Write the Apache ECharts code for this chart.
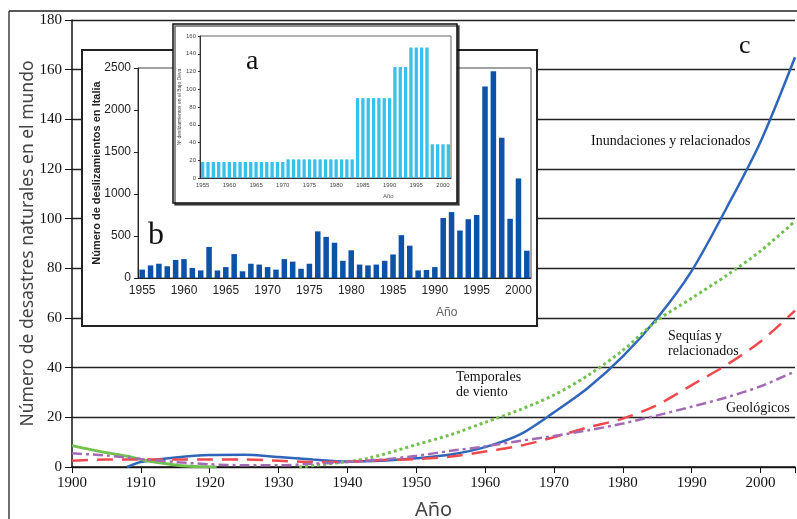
<!DOCTYPE html>
<html>
<head>
<meta charset="utf-8">
<script src="https://cdn.jsdelivr.net/npm/echarts@6/dist/echarts.min.js"></script>
<style>
  html, body { margin: 0; padding: 0; background: #fff; }
  #chart { width: 797px; height: 519px; }
</style>
</head>
<body>
<div id="chart"></div>
<script>
// panel c: desastres naturales en el mundo
var floodYears = [1908, 1910, 1915, 1920, 1925, 1930, 1935, 1940, 1945, 1950, 1955, 1960, 1965, 1970, 1975, 1980, 1985, 1990, 1995, 2000, 2005];
var floodVals  = [0, 2, 3.8, 4.8, 4.9, 4, 3, 2.2, 2.5, 3.5, 5, 8, 13, 22, 32, 44.5, 60, 79, 104, 131, 165];

var windEarlyYears = [1900, 1904, 1908, 1911, 1914, 1917, 1921];
var windEarlyVals  = [8.6, 6.3, 4.3, 2.4, 1.2, 0.3, 0];
var windYears = [1933, 1938, 1943, 1950, 1955, 1960, 1965, 1970, 1975, 1980, 1985, 1990, 1995, 2000, 2005];
var windVals  = [0, 1.5, 3.5, 9, 13, 18, 23, 29, 37, 47, 59, 68, 77, 87, 99];

var otherYears   = [1900, 1905, 1910, 1915, 1920, 1925, 1930, 1935, 1940, 1945, 1950, 1955, 1960, 1965, 1970, 1975, 1980, 1985, 1990, 1995, 2000, 2005];
var droughtVals  = [2.5, 3, 3, 3, 3, 3, 2.5, 2, 2.2, 2.8, 3.2, 4.2, 6.2, 8.5, 12, 16, 19.5, 25, 33, 41, 50.5, 63];
var geoVals      = [5.5, 4.6, 3.2, 2, 1.1, 0.7, 0.7, 1.3, 2, 3, 4.5, 6.5, 8.3, 10.5, 12.5, 14.8, 17.5, 20.8, 24.3, 28, 32.5, 38.5];

// panel b: deslizamientos en Italia
var italyYears = [];
for (var y = 1955; y <= 2001; y++) italyYears.push(String(y));
var italyVals = [100, 150, 170, 140, 215, 225, 120, 90, 370, 90, 130, 285, 80, 170, 160, 130, 100, 225, 195, 110,
                 170, 555, 490, 420, 205, 330, 160, 150, 160, 205, 280, 510, 385, 90, 95, 130, 715, 785, 565, 700,
                 750, 2280, 2460, 1670, 705, 1185, 325];

// panel a: deslizamientos en el Bajo Deva
var devaVals = [18, 18, 18, 18, 18, 18, 18, 18, 18, 18, 18, 18, 18, 18, 18, 18,
                21, 21, 21, 21, 21, 21, 21, 21, 21, 21, 21, 21, 21,
                90, 90, 90, 90, 90, 90, 90,
                125, 125, 125,
                147, 147, 147, 147,
                38, 38, 38, 38];

function pairs(xs, vs) {
    var out = [];
    for (var i = 0; i < xs.length; i++) out.push([xs[i], vs[i]]);
    return out;
}
function every5(i, v) { return (+v) % 5 === 0; }
function plain(v) { return String(v); }

var serif = 'Liberation Serif';
var sans = 'Liberation Sans';

var myChart = echarts.init(document.getElementById('chart'));
var option = {
    animation: false,
    backgroundColor: '#fff',
    grid: [
        { left: 72, right: 2, top: 20, bottom: 52, outerBoundsMode: 'none' },
        { left: 138, top: 68, width: 393, height: 210, show: true, borderColor: '#444', borderWidth: 1,
          backgroundColor: '#fff', z: 20, outerBoundsMode: 'none' },
        { left: 200, top: 36, width: 251, height: 142, show: true, borderColor: '#666', borderWidth: 1,
          backgroundColor: '#fff', z: 40, outerBoundsMode: 'none' }
    ],
    xAxis: [
        {
            gridIndex: 0, type: 'value', min: 1900, max: 2005, interval: 10,
            name: 'Año', nameLocation: 'middle', nameGap: 33, nameMoveOverlap: false,
            nameTextStyle: { fontFamily: 'Noto Sans', fontSize: 20, color: '#444' },
            axisLine: { lineStyle: { color: '#111', width: 1.5 } },
            axisTick: { length: 6, lineStyle: { color: '#111' } },
            axisLabel: { fontFamily: serif, fontSize: 15, color: '#111', margin: 9,
                formatter: function (v) { return v % 10 === 0 ? String(v) : ''; } },
            splitLine: { show: false }
        },
        {
            gridIndex: 1, type: 'category', data: italyYears, z: 21,
            axisLine: { lineStyle: { color: '#222' } },
            axisTick: { alignWithLabel: true, interval: every5, length: 4, lineStyle: { color: '#222' } },
            axisLabel: { interval: every5, fontFamily: sans, fontSize: 12, color: '#222', margin: 7 }
        },
        {
            gridIndex: 2, type: 'category', data: italyYears, z: 41,
            axisLine: { lineStyle: { color: '#333' } },
            axisTick: { alignWithLabel: true, interval: every5, length: 2, lineStyle: { color: '#333' } },
            axisLabel: { interval: every5, fontFamily: sans, fontSize: 6, color: '#444', margin: 4 }
        }
    ],
    yAxis: [
        {
            gridIndex: 0, type: 'value', min: 0, max: 180, interval: 20,
            name: 'Número de desastres naturales en el mundo', nameLocation: 'middle', nameGap: 35,
            nameMoveOverlap: false,
            nameTextStyle: { fontFamily: 'Noto Sans', fontSize: 17.5, color: '#444' },
            axisLine: { show: true, lineStyle: { color: '#111', width: 1.5 } },
            axisTick: { show: true, length: 7, lineStyle: { color: '#111' } },
            axisLabel: { fontFamily: serif, fontSize: 15, color: '#111', margin: 10 },
            splitLine: { show: true, lineStyle: { color: '#222', width: 1.3 } }
        },
        {
            gridIndex: 1, type: 'value', min: 0, max: 2500, interval: 500, z: 21,
            name: 'Número de deslizamientos en Italia', nameLocation: 'middle', nameGap: 36,
            nameMoveOverlap: false,
            nameTextStyle: { fontFamily: sans, fontSize: 11, fontWeight: 'bold', color: '#222' },
            axisLine: { show: true, lineStyle: { color: '#222' } },
            axisTick: { show: true, length: 4 },
            axisLabel: { fontFamily: sans, fontSize: 12, color: '#222', margin: 7, formatter: plain },
            splitLine: { show: false }
        },
        {
            gridIndex: 2, type: 'value', min: 0, max: 160, interval: 20, z: 41,
            name: 'Nº deslizamientos en el Bajo Deva', nameLocation: 'middle', nameGap: 18,
            nameMoveOverlap: false,
            nameTextStyle: { fontFamily: sans, fontSize: 5, color: '#444' },
            axisLine: { show: true, lineStyle: { color: '#333' } },
            axisTick: { show: true, length: 2 },
            axisLabel: { fontFamily: sans, fontSize: 6, color: '#444', margin: 4, formatter: plain },
            splitLine: { show: false }
        }
    ],
    series: [
        {
            name: 'Inundaciones y relacionados', type: 'line', xAxisIndex: 0, yAxisIndex: 0,
            data: pairs(floodYears, floodVals), smooth: 0.3, showSymbol: false,
            lineStyle: { color: '#2f66ba', width: 2.5 }
        },
        {
            name: 'Temporales de viento', type: 'line', xAxisIndex: 0, yAxisIndex: 0,
            data: pairs(windEarlyYears, windEarlyVals), smooth: 0.3, showSymbol: false,
            lineStyle: { color: '#72c150', width: 3 }
        },
        {
            name: 'Temporales de viento', type: 'line', xAxisIndex: 0, yAxisIndex: 0,
            data: pairs(windYears, windVals), smooth: 0.3, showSymbol: false,
            lineStyle: { color: '#72c150', width: 3, type: [3, 3] }
        },
        {
            name: 'Sequías y relacionados', type: 'line', xAxisIndex: 0, yAxisIndex: 0,
            data: pairs(otherYears, droughtVals), smooth: 0.3, showSymbol: false,
            lineStyle: { color: '#ee4a4e', width: 2.5, type: [16, 9] }
        },
        {
            name: 'Geológicos', type: 'line', xAxisIndex: 0, yAxisIndex: 0,
            data: pairs(otherYears, geoVals), smooth: 0.3, showSymbol: false,
            lineStyle: { color: '#a46bb5', width: 2.5, type: [10, 4, 3, 4] }
        },
        {
            name: 'Italia', type: 'bar', xAxisIndex: 1, yAxisIndex: 1, z: 22,
            data: italyVals, barWidth: '66%',
            itemStyle: { color: '#0c52a6' }
        },
        {
            name: 'Bajo Deva', type: 'bar', xAxisIndex: 2, yAxisIndex: 2, z: 42,
            data: devaVals, barWidth: '62%',
            itemStyle: { color: '#37c1ec' }
        }
    ],
    graphic: [
        // outer frame
        { type: 'line', z: 5, shape: { x1: 9, y1: 11, x2: 797, y2: 11 }, style: { stroke: '#222', lineWidth: 1.3 } },
        { type: 'line', z: 5, shape: { x1: 9, y1: 11, x2: 9, y2: 519 }, style: { stroke: '#222', lineWidth: 1.3 } },
        // inset boxes
        { type: 'rect', z: 15, shape: { x: 82, y: 50, width: 455, height: 276 },
          style: { fill: '#fff', stroke: '#222', lineWidth: 2 } },
        { type: 'rect', z: 35, shape: { x: 173, y: 24, width: 284, height: 179 },
          style: { fill: '#fff', stroke: '#111', lineWidth: 1.5, shadowColor: 'rgba(0,0,0,0.6)', shadowOffsetX: 2, shadowOffsetY: 2 } },
        // inset axis titles
        { type: 'text', z: 25, x: 436, y: 307, style: { text: 'Año', font: '12px "Liberation Sans"', fill: '#666' } },
        { type: 'text', z: 45, x: 383, y: 193, style: { text: 'Año', font: '6px "Liberation Sans"', fill: '#555' } },
        // panel letters
        { type: 'text', z: 45, x: 246, y: 48, style: { text: 'a', font: '28px "Liberation Serif"', fill: '#111' } },
        { type: 'text', z: 25, x: 148, y: 220, style: { text: 'b', font: '32px "Liberation Serif"', fill: '#111' } },
        { type: 'text', z: 5, x: 739, y: 33, style: { text: 'c', font: '26px "Liberation Serif"', fill: '#111' } },
        // series labels
        { type: 'text', z: 5, x: 591, y: 134, style: { text: 'Inundaciones y relacionados', font: '14px "Liberation Serif"', fill: '#111' } },
        { type: 'text', z: 5, x: 668, y: 329, style: { text: 'Sequías y\nrelacionados', font: '14px "Liberation Serif"', fill: '#111', lineHeight: 15 } },
        { type: 'text', z: 5, x: 456, y: 370, style: { text: 'Temporales\nde viento', font: '14px "Liberation Serif"', fill: '#111', lineHeight: 15 } },
        { type: 'text', z: 5, x: 726, y: 401, style: { text: 'Geológicos', font: '14px "Liberation Serif"', fill: '#111' } }
    ]
};
myChart.setOption(option);
</script>
</body>
</html>
